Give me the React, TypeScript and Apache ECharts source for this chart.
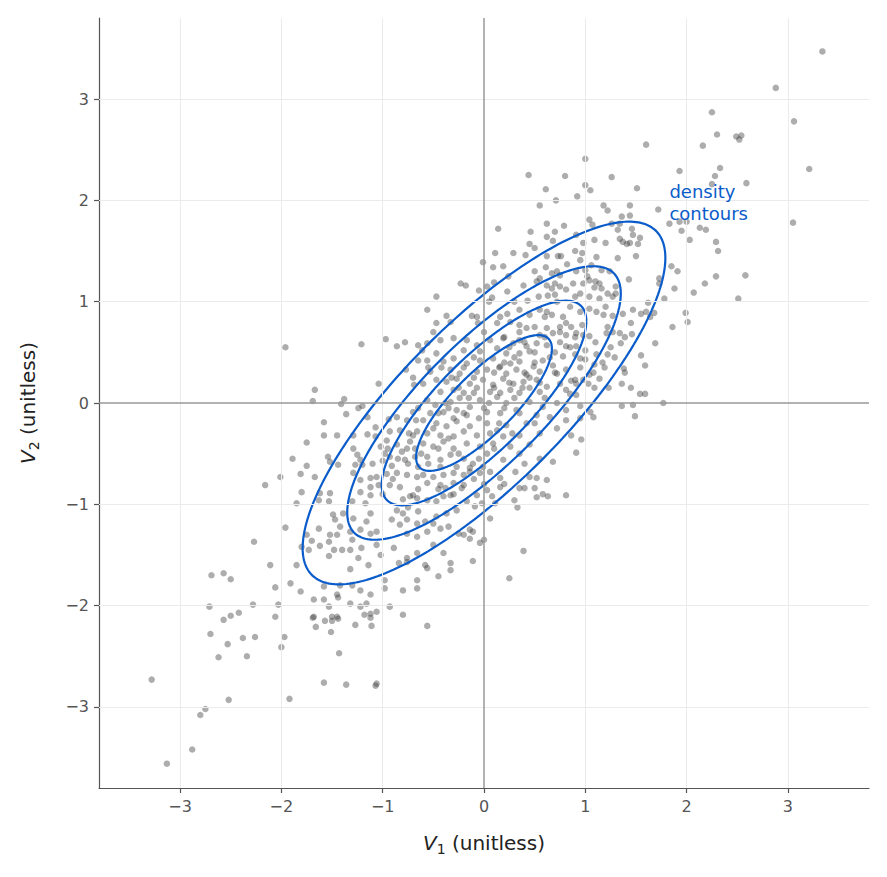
import React, { useEffect, useRef } from "react";
import * as echarts from "echarts";

// Sample of (V1, V2) observations, grouped by region of the plane
const pointsUpperRight: number[][] = [
  [0.44, 2.25], [0.8, 2.24], [0.61, 2.11], [0.55, 1.95], [0.71, 2.0], [0.62, 1.77], [0.79, 1.75],
  [0.14, 1.72], [0.46, 1.69], [0.7, 1.69], [0.62, 1.64], [0.68, 1.6], [0.45, 1.57], [0.5, 1.53],
  [0.11, 1.48], [0.29, 1.48], [0.41, 1.46], [0.62, 1.45], [0.73, 1.45], [0.76, 1.45], [-0.01, 1.39],
  [0.09, 1.34], [0.19, 1.35], [0.61, 1.34], [0.82, 1.37], [0.67, 1.28], [0.72, 1.3], [0.75, 1.26],
  [0.24, 1.25], [0.1, 1.19], [0.39, 1.16], [0.52, 1.2], [0.55, 1.23], [-0.23, 1.18], [-0.18, 1.16],
  [-0.05, 1.11], [0.03, 1.15], [0.23, 1.1], [0.62, 1.16], [0.67, 1.13], [0.7, 1.18], [0.75, 1.15],
  [0.81, 1.12], [-0.47, 1.05], [0.08, 1.04], [0.43, 1.01], [0.54, 1.05], [0.63, 1.06], [0.7, 1.07],
  [0.72, 1.0], [-0.56, 0.92], [-0.37, 0.86], [-0.12, 0.86], [-0.07, 0.85], [0.16, 0.85], [0.23, 0.88],
  [0.35, 0.92], [0.45, 0.87], [0.55, 0.92], [0.62, 0.9], [0.67, 0.87], [0.78, 0.85], [1.0, 2.41],
  [1.26, 2.23], [1.93, 2.29], [2.28, 2.24], [1.0, 2.15], [1.05, 2.1], [1.51, 2.12], [0.92, 2.04],
  [1.18, 1.95], [1.22, 1.9], [1.44, 1.95], [1.72, 1.91], [1.44, 1.85], [1.36, 1.84], [1.04, 1.81],
  [1.07, 1.76], [1.26, 1.77], [1.34, 1.77], [1.83, 1.77], [1.93, 1.79], [2.0, 1.79], [2.13, 1.73],
  [2.19, 1.71], [1.95, 1.7], [1.32, 1.71], [1.46, 1.72], [1.47, 1.66], [1.54, 1.63], [0.91, 1.66],
  [0.98, 1.58], [1.09, 1.61], [1.2, 1.58], [1.34, 1.62], [1.37, 1.59], [1.41, 1.57], [1.44, 1.58],
  [1.52, 1.57], [2.03, 1.61], [2.29, 1.59], [2.31, 1.5], [0.97, 1.48], [0.95, 1.41], [1.11, 1.44],
  [1.32, 1.43], [1.5, 1.45], [1.06, 1.36], [1.16, 1.31], [1.24, 1.3], [1.85, 1.35], [1.91, 1.3],
  [2.29, 1.25], [0.91, 1.3], [1.0, 1.31], [1.02, 1.25], [1.04, 1.21], [0.98, 1.18], [0.88, 1.18],
  [1.14, 1.18], [1.16, 1.13], [1.09, 1.14], [1.43, 1.22], [1.73, 1.23], [1.73, 1.18], [1.88, 1.13],
  [2.18, 1.18], [2.07, 1.09], [1.22, 1.08], [1.27, 1.05], [1.3, 1.08], [1.14, 1.03], [1.04, 1.05],
  [0.95, 1.08], [0.9, 1.05], [1.62, 0.99], [1.78, 1.03], [1.99, 0.89], [1.47, 0.92], [1.55, 0.88],
  [1.6, 0.9], [1.68, 0.89], [1.64, 0.85], [1.04, 0.93], [1.11, 0.9], [1.18, 0.87], [1.27, 0.86],
  [1.37, 0.88], [3.34, 3.47], [2.88, 3.11], [2.25, 2.87], [3.06, 2.78], [2.3, 2.65], [2.49, 2.63],
  [2.54, 2.64], [2.52, 2.6], [1.6, 2.55], [2.16, 2.54], [2.33, 2.32], [3.21, 2.31], [2.25, 2.16],
  [2.59, 2.17], [3.05, 1.78], [2.58, 1.26], [2.51, 1.03],
];

const pointsRight: number[][] = [
  [1.86, 0.75], [2.01, 0.8], [1.45, 0.79], [1.22, 0.75], [1.27, 0.7], [1.34, 0.69], [1.39, 0.65],
  [1.46, 0.68], [1.21, 0.69], [0.97, 0.77], [0.91, 0.69], [0.98, 0.67], [1.04, 0.66], [0.86, 0.75],
  [1.35, 0.59], [1.69, 0.59], [0.91, 0.56], [1.0, 0.52], [0.9, 0.48], [0.95, 0.44], [1.11, 0.48],
  [1.22, 0.48], [1.29, 0.45], [1.55, 0.47], [1.17, 0.4], [1.19, 0.35], [1.09, 0.38], [1.0, 0.43],
  [1.59, 0.37], [1.38, 0.34], [1.39, 0.3], [1.08, 0.3], [1.04, 0.28], [0.9, 0.23], [0.98, 0.23],
  [0.91, 0.19], [0.86, 0.22], [1.14, 0.24], [1.03, 0.19], [1.09, 0.15], [1.36, 0.19], [1.23, 0.15],
  [1.45, 0.15], [1.54, 0.09], [1.59, 0.09], [1.77, 0.0], [0.85, 0.09], [0.91, 0.08], [0.95, -0.03],
  [1.05, -0.09], [1.08, -0.14], [1.36, -0.03], [1.47, -0.02], [1.49, -0.13], [0.95, -0.15],
  [0.86, -0.32], [0.96, -0.36], [0.91, -0.49], [0.95, 0.35], [1.1, 0.6], [1.25, 0.55],
  [1.1, 1.2], [1.2, 0.95], [1.3, 1.15], [0.9, 1.5],
];

const pointsLeft: number[][] = [
  [-1.96, 0.55], [-1.21, 0.58], [-0.97, 0.63], [-0.86, 0.56], [-0.78, 0.6], [-0.65, 0.57],
  [-1.04, 0.19], [-1.67, 0.13], [-1.69, 0.02], [-1.41, -0.01], [-1.38, 0.04], [-1.36, -0.11],
  [-1.24, -0.05], [-1.2, -0.03], [-1.15, -0.14], [-1.58, -0.19], [-1.07, -0.24], [-0.94, -0.16],
  [-0.93, -0.28], [-1.58, -0.32], [-1.45, -0.32], [-1.29, -0.32], [-1.15, -0.31], [-1.07, -0.33],
  [-1.75, -0.39], [-1.89, -0.55], [-1.75, -0.62], [-1.54, -0.53], [-1.52, -0.58], [-1.44, -0.61],
  [-1.29, -0.45], [-1.25, -0.51], [-1.22, -0.56], [-1.27, -0.61], [-1.2, -0.61], [-1.1, -0.6],
  [-1.0, -0.57], [-0.91, -0.62], [-0.86, -0.14], [-0.76, -0.17], [-0.7, -0.09], [-0.65, -0.05],
  [-0.69, 0.18], [-0.7, 0.25], [-0.77, 0.33], [-0.65, 0.42], [-1.02, -0.43], [-0.98, -0.5],
  [-0.93, -0.53], [-0.86, -0.41], [-0.81, -0.48], [-0.76, -0.45], [-0.73, -0.38], [-0.7, -0.32],
  [-0.66, -0.28], [-0.78, -0.56], [-0.75, -0.6], [-0.68, -0.53], [-0.65, -0.63], [-0.96, -0.37],
  [-0.83, -0.27], [-0.67, -0.17], [-0.74, -0.3], [-2.16, -0.81], [-0.85, -0.55], [-0.95, -0.45],
  [-0.8, -0.95], [-0.9, -0.75], [-1.0, -0.9],
];

const pointsCore: number[][] = [
  [-0.47, 0.79], [-0.33, 0.8], [-0.06, 0.79], [0.13, 0.79], [0.26, 0.8], [0.35, 0.77], [0.42, 0.74],
  [0.5, 0.75], [0.62, 0.74], [0.75, 0.75], [0.81, 0.79], [0.68, 0.69], [0.81, 0.67], [0.55, 0.67],
  [-0.56, 0.59], [-0.43, 0.62], [-0.3, 0.64], [-0.17, 0.62], [-0.07, 0.57], [0.06, 0.62], [0.19, 0.64],
  [0.29, 0.59], [0.35, 0.62], [0.42, 0.56], [0.52, 0.59], [0.62, 0.57], [0.75, 0.6], [0.81, 0.56],
  [-0.61, 0.52], [-0.47, 0.49], [-0.2, 0.52], [-0.04, 0.51], [0.13, 0.54], [0.22, 0.49], [0.35, 0.49],
  [0.45, 0.51], [-0.56, 0.42], [-0.4, 0.41], [-0.3, 0.44], [-0.17, 0.39], [-0.04, 0.42], [0.09, 0.44],
  [0.16, 0.36], [0.26, 0.39], [0.35, 0.41], [0.49, 0.36], [0.58, 0.42], [0.68, 0.37], [0.78, 0.46],
  [0.81, 0.33], [-0.53, 0.31], [-0.33, 0.33], [-0.24, 0.29], [-0.07, 0.31], [0.03, 0.33], [0.22, 0.29],
  [0.32, 0.33], [0.42, 0.28], [0.55, 0.31], [0.72, 0.29], [-0.6, 0.19], [-0.47, 0.23], [-0.37, 0.21],
  [-0.27, 0.24], [-0.14, 0.19], [-0.01, 0.23], [0.09, 0.18], [0.19, 0.24], [0.29, 0.19], [0.39, 0.21],
  [0.52, 0.23], [0.62, 0.16], [0.75, 0.19], [-0.43, 0.11], [-0.3, 0.13], [-0.2, 0.1], [-0.07, 0.15],
  [0.06, 0.11], [0.16, 0.1], [0.26, 0.13], [0.35, 0.1], [0.45, 0.15], [0.55, 0.11], [0.81, 0.13],
  [-0.56, 0.03], [-0.48, -0.02], [-0.33, 0.01], [-0.24, 0.05], [-0.14, -0.04], [-0.04, 0.03],
  [0.13, 0.06], [0.22, 0.0], [0.32, -0.07], [0.45, 0.01], [0.58, -0.04], [0.72, 0.0], [0.81, -0.07],
  [-0.53, -0.1], [-0.4, -0.09], [-0.27, -0.07], [-0.17, -0.12], [0.03, -0.09], [0.16, -0.1],
  [0.35, -0.1], [0.52, -0.12], [0.65, -0.14], [-0.6, -0.17], [-0.47, -0.2], [-0.37, -0.23],
  [-0.27, -0.18], [-0.14, -0.23], [0.03, -0.2], [0.13, -0.27], [0.22, -0.22], [0.42, -0.2],
  [0.72, -0.25], [0.81, -0.17], [-0.56, -0.3], [-0.43, -0.32], [-0.3, -0.33], [-0.2, -0.28],
  [-0.07, -0.32], [0.06, -0.3], [0.19, -0.33], [0.35, -0.32], [0.55, -0.3], [-0.6, -0.4], [-0.5, -0.43],
  [-0.4, -0.38], [-0.3, -0.45], [-0.17, -0.4], [-0.04, -0.43], [0.09, -0.4], [0.26, -0.43],
  [0.45, -0.41], [0.68, -0.58], [-0.56, -0.53], [-0.43, -0.56], [-0.33, -0.51], [-0.2, -0.55],
  [-0.11, -0.6], [0.03, -0.5], [0.19, -0.56], [0.35, -0.5], [-0.43, -0.63], [-0.27, -0.63],
  [-0.14, -0.64], [-0.01, -0.63], [0.1, 0.3], [0.2, 0.4], [-0.1, 0.1], [0.3, 0.05], [0.0, -0.05],
  [-0.2, -0.1], [0.4, 0.3], [0.25, 0.55], [-0.35, -0.05], [0.5, 0.4],
  [-0.5, -0.25], [-0.45, -0.1], [-0.38, 0.0], [-0.3, -0.15], [-0.25, 0.15], [-0.15, 0.05],
  [-0.1, 0.25], [-0.05, -0.15], [0.05, 0.0], [0.1, 0.15], [0.15, 0.35], [0.2, -0.05], [0.25, 0.2],
  [0.3, 0.45], [0.38, 0.15], [0.4, 0.6], [0.45, 0.25], [0.5, 0.5], [0.55, 0.2], [0.6, 0.65],
  [0.65, 0.45], [0.7, 0.5], [0.75, 0.7], [0.7, 0.3], [0.6, 0.05], [0.5, -0.2], [0.1, -0.45],
  [-0.05, -0.55], [-0.25, -0.5], [-0.35, -0.35], [-0.45, -0.45], [-0.55, -0.6], [-0.62, -0.5],
  [-0.68, -0.45], [0.85, 0.55], [0.9, 0.65], [0.95, 0.9], [0.85, 0.95], [0.6, 0.85], [0.35, 0.7],
  [0.2, 0.65], [0.0, 0.7], [-0.1, 0.45], [-0.2, 0.35], [-0.32, 0.25], [-0.42, 0.35], [0.15, -0.2],
  [0.28, -0.3], [0.4, -0.6], [0.55, -0.55], [-0.55, 0.35], [-0.5, 0.7], [0.05, 1.0], [0.3, 1.0],
  [0.5, 1.3],
];

const pointsLowerLeft: number[][] = [
  [-2.01, -0.73], [-1.81, -0.7], [-1.67, -0.73], [-1.29, -0.69], [-1.22, -0.76], [-1.12, -0.74],
  [-1.06, -0.73], [-0.96, -0.7], [-0.86, -0.69], [-0.76, -0.71], [-0.66, -0.73], [-1.8, -0.88],
  [-1.52, -0.89], [-1.62, -0.89], [-1.22, -0.88], [-1.12, -0.83], [-1.04, -0.81], [-1.12, -0.91],
  [-0.93, -0.81], [-0.83, -0.83], [-0.7, -0.91], [-0.73, -0.92], [-0.66, -0.94], [-1.85, -0.99],
  [-1.63, -0.96], [-1.53, -0.97], [-1.3, -0.97], [-1.17, -0.99], [-0.86, -1.06], [-0.8, -1.09],
  [-0.75, -1.03], [-0.65, -1.07], [-1.96, -1.23], [-1.49, -1.1], [-1.39, -1.09], [-1.47, -1.15],
  [-1.12, -1.09], [-1.16, -1.17], [-1.29, -1.14], [-1.63, -1.24], [-1.42, -1.22], [-1.52, -1.3],
  [-1.32, -1.27], [-1.22, -1.25], [-1.12, -1.29], [-1.06, -1.27], [-0.91, -1.15], [-0.83, -1.2],
  [-0.76, -1.15], [-0.66, -1.19], [-0.76, -1.29], [-0.66, -1.32], [-1.75, -1.3], [-1.7, -1.36],
  [-1.62, -1.41], [-1.53, -1.37], [-1.45, -1.3], [-1.4, -1.45], [-1.48, -1.45], [-1.3, -1.35],
  [-1.32, -1.45], [-1.21, -1.43], [-1.06, -1.4], [-1.02, -1.5], [-0.89, -1.43], [-0.76, -1.53],
  [-0.66, -1.48], [-1.8, -1.42], [-1.73, -1.45], [-2.11, -1.6], [-1.85, -1.6], [-1.53, -1.51],
  [-1.32, -1.64], [-1.24, -1.53], [-1.14, -1.6], [-0.98, -1.75], [-0.84, -1.58], [-0.76, -1.57],
  [-2.06, -1.82], [-1.91, -1.78], [-1.81, -1.86], [-1.58, -1.81], [-1.42, -1.8], [-1.3, -1.8],
  [-1.22, -1.85], [-1.12, -1.89], [-0.98, -1.83], [-0.8, -1.85], [-0.66, -1.75], [-0.66, -1.83],
  [-2.03, -1.99], [-1.68, -1.94], [-1.58, -1.94], [-1.45, -1.89], [-1.44, -1.92], [-1.32, -1.98],
  [-1.16, -1.98], [-1.22, -2.01], [-1.12, -2.08], [-1.06, -2.06], [-0.93, -2.01], [-0.8, -2.09],
  [-2.06, -2.11], [-1.68, -2.11], [-1.53, -2.01], [-1.5, -2.11], [-1.45, -2.11], [-2.71, -2.01],
  [-2.57, -2.14], [-2.5, -2.1], [-2.42, -2.07], [-2.28, -1.99], [-2.7, -2.28], [-2.53, -2.38],
  [-2.38, -2.32], [-2.26, -2.31], [-2.62, -2.51], [-2.34, -2.5], [-1.97, -2.31], [-2.0, -2.41],
  [-3.28, -2.73], [-2.52, -2.93], [-1.92, -2.92], [-2.75, -3.02], [-2.8, -3.08], [-2.88, -3.42],
  [-3.13, -3.56], [-1.69, -2.12], [-1.57, -2.15], [-1.66, -2.21], [-1.5, -2.15], [-1.44, -2.13],
  [-1.51, -2.26], [-1.43, -2.47], [-1.58, -2.76], [-1.36, -2.78], [-1.27, -2.19], [-1.18, -2.09],
  [-1.12, -2.12], [-1.11, -2.2], [-1.06, -2.77], [-1.07, -2.79], [-0.56, -2.2], [-2.27, -1.37],
  [-2.69, -1.7], [-2.57, -1.68], [-2.5, -1.74],
];

const pointsLowerCentre: number[][] = [
  [-0.6, -0.71], [-0.5, -0.73], [-0.4, -0.71], [-0.3, -0.69], [-0.2, -0.71], [-0.14, -0.68],
  [-0.04, -0.69], [0.06, -0.68], [0.16, -0.74], [0.31, -0.68], [0.45, -0.73], [0.52, -0.74],
  [0.62, -0.76], [-0.56, -0.79], [-0.43, -0.81], [-0.38, -0.84], [-0.3, -0.79], [-0.2, -0.81],
  [-0.56, -0.96], [-0.47, -0.97], [-0.4, -0.92], [-0.33, -0.91], [-0.22, -0.84], [-0.07, -0.91],
  [0.03, -0.86], [0.08, -0.92], [0.16, -0.83], [0.35, -0.84], [0.4, -0.84], [0.5, -0.84],
  [0.52, -0.93], [0.58, -0.9], [0.63, -0.92], [0.81, -0.91], [0.3, -0.96], [0.33, -1.03],
  [-0.17, -0.97], [-0.09, -1.02], [-0.02, -0.99], [0.11, -0.99], [-0.27, -1.06], [-0.37, -1.09],
  [-0.47, -1.12], [-0.58, -1.17], [-0.5, -1.19], [-0.56, -1.27], [-0.43, -1.24], [-0.35, -1.22],
  [-0.25, -1.29], [-0.2, -1.3], [-0.14, -1.25], [-0.11, -1.27], [-0.14, -1.34], [-0.04, -1.38],
  [0.0, -1.35], [0.06, -1.14], [-0.5, -1.4], [-0.4, -1.48], [-0.33, -1.58], [-0.58, -1.6],
  [-0.56, -1.63], [-0.45, -1.71], [-0.33, -1.65], [-0.11, -1.56], [0.39, -1.46], [0.25, -1.73],
  [0.2, -0.8], [0.0, -0.8], [-0.1, -0.75], [-0.3, -0.9], [-0.45, -0.85], [-0.65, -0.85],
];

// Contour radii (Mahalanobis distance) and correlation of the fitted density
const contourRadii = [0.67, 1.01, 1.35, 1.79];
const rho = 0.8;

const ticks = [-3, -2, -1, 0, 1, 2, 3];

const ellipse = (r: number): number[][] => {
  const pts: number[][] = [];
  const s = Math.sqrt(1 - rho * rho);
  for (let i = 0; i <= 240; i++) {
    const t = (i / 240) * Math.PI * 2;
    pts.push([r * Math.cos(t), r * (rho * Math.cos(t) + s * Math.sin(t))]);
  }
  return pts;
};

const fmt = (v: number) => (v < 0 ? "\u2212" + Math.abs(v) : String(v));

export default function App() {
  const ref = useRef<HTMLDivElement>(null);

  useEffect(() => {
    if (!ref.current) return;
    const chart = echarts.init(ref.current, undefined, { renderer: "svg" });
    const font = "DejaVu Sans";
    const allPoints = [
      ...pointsUpperRight,
      ...pointsRight,
      ...pointsLeft,
      ...pointsCore,
      ...pointsLowerLeft,
      ...pointsLowerCentre,
    ];

    const nameRich = {
      i: { fontStyle: "italic", fontSize: 20, fontFamily: font, color: "#222", lineHeight: 28, verticalAlign: "middle" },
      s: { fontSize: 14, fontFamily: font, color: "#222", lineHeight: 28, padding: [12, 0, 0, 0] },
    };

    const axisCommon = {
      type: "value" as const,
      min: -3.8,
      max: 3.8,
      splitLine: { show: false },
      axisLine: { show: true, onZero: false, lineStyle: { color: "#555", width: 1.2 } },
      axisTick: {
        show: true,
        customValues: ticks,
        length: 5,
        lineStyle: { color: "#555", width: 1.2 },
      },
      axisLabel: {
        customValues: ticks,
        formatter: fmt,
        color: "#555",
        fontSize: 16,
        fontFamily: font,
        margin: 10,
      },
      nameLocation: "middle" as const,
      nameTextStyle: { color: "#222", fontSize: 20, fontFamily: font, rich: nameRich },
    };

    chart.setOption({
      animation: false,
      backgroundColor: "#fff",
      grid: { left: 99, right: 18, top: 18, bottom: 89 },
      xAxis: {
        ...axisCommon,
        name: "{i|V}{s|1} (unitless)",
        nameGap: 41,
      },
      yAxis: {
        ...axisCommon,
        name: "{i|V}{s|2} (unitless)",
        nameGap: 57,
        nameRotate: 90,
      },
      series: [
        {
          type: "scatter",
          data: [],
          z: 1,
          silent: true,
          markLine: {
            silent: true,
            symbol: "none",
            label: { show: false },
            lineStyle: { color: "#ebebeb", width: 1, type: "solid" },
            data: [
              ...ticks.filter((t) => t !== 0).map((t) => ({ xAxis: t })),
              ...ticks.filter((t) => t !== 0).map((t) => ({ yAxis: t })),
            ],
          },
        },
        {
          type: "scatter",
          data: [],
          z: 2,
          silent: true,
          markLine: {
            silent: true,
            symbol: "none",
            label: { show: false },
            lineStyle: { color: "#999", width: 1.5, type: "solid" },
            data: [{ xAxis: 0 }, { yAxis: 0 }],
          },
        },
        {
          type: "scatter",
          z: 3,
          data: allPoints,
          symbolSize: 6.5,
          itemStyle: { color: "#333", opacity: 0.4 },
        },
        ...contourRadii.map((r) => ({
          type: "line",
          z: 4,
          data: ellipse(r),
          showSymbol: false,
          smooth: false,
          lineStyle: { color: "#0b5ccb", width: 2.2 },
        })),
      ],
      graphic: [],
    });

    // "density contours" annotation, anchored at a data position
    const [ax, ay] = chart.convertToPixel({ gridIndex: 0 }, [1.83, 1.98]);
    chart.setOption({
      graphic: [
        {
          type: "text",
          x: ax,
          y: ay,
          z: 10,
          style: {
            text: "density\ncontours",
            fill: "#0b5ccb",
            font: `18px "${font}"`,
            lineHeight: 22,
            align: "left",
            verticalAlign: "middle",
          },
        },
      ],
    });
    return () => chart.dispose();
  }, []);

  return (
    <div
      ref={ref}
      style={{ position: "absolute", left: 0, top: 0, width: 887, height: 877 }}
    />
  );
}
